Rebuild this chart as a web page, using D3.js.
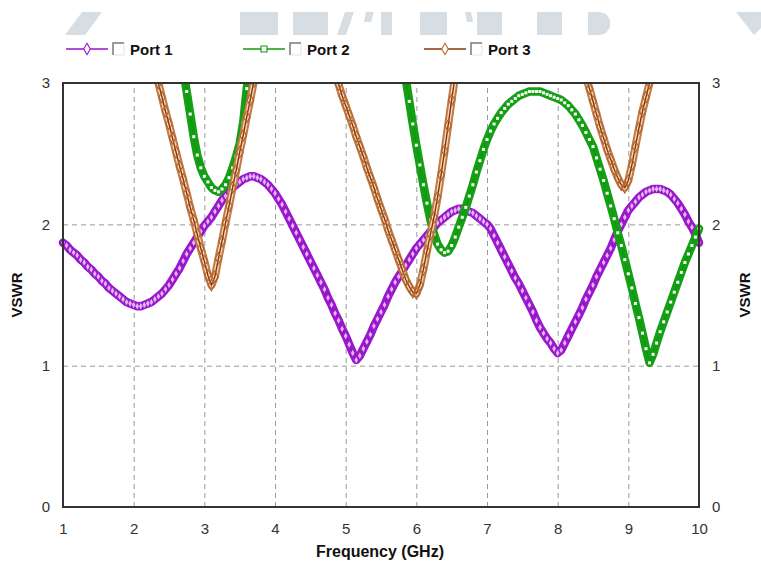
<!DOCTYPE html>
<html><head><meta charset="utf-8">
<script src="https://cdn.jsdelivr.net/npm/d3@7"></script>
<style>body{margin:0;background:#fff}svg{display:block}</style>
</head><body><svg id="c" width="761" height="563"></svg>
<script>
// ---------- DATA ----------
const freqStart = 1, freqStep = 0.05, freqCount = 181;
const xTicks = [1,2,3,4,5,6,7,8,9,10];
const yTicks = [0,1,2,3];
const seriesNames = ["Port 1","Port 2","Port 3"];
const n = null;
const port1 = [
1.87,1.85,1.82,1.80,1.78,1.75,1.73,1.70,1.68,1.65,1.63,1.60,1.58,1.55,1.53,1.51,1.49,1.47,1.45,1.44,
1.43,1.42,1.42,1.43,1.44,1.45,1.47,1.49,1.51,1.54,1.57,1.61,1.65,1.69,1.74,1.79,1.83,1.87,1.91,1.95,
1.99,2.02,2.05,2.09,2.13,2.17,2.20,2.23,2.26,2.28,2.30,2.32,2.33,2.34,2.34,2.33,2.32,2.30,2.28,2.25,
2.22,2.18,2.14,2.09,2.04,1.99,1.94,1.89,1.84,1.79,1.74,1.69,1.64,1.59,1.54,1.48,1.43,1.37,1.32,1.26,
1.21,1.15,1.09,1.04,1.07,1.12,1.17,1.22,1.28,1.33,1.38,1.43,1.49,1.54,1.59,1.63,1.67,1.71,1.75,1.79,
1.83,1.86,1.89,1.92,1.95,1.98,2.01,2.03,2.05,2.07,2.09,2.10,2.11,2.11,2.10,2.09,2.08,2.06,2.04,2.02,
2.00,1.97,1.92,1.87,1.82,1.77,1.72,1.67,1.62,1.58,1.53,1.48,1.43,1.38,1.32,1.27,1.23,1.19,1.16,1.12,
1.09,1.11,1.16,1.21,1.26,1.31,1.36,1.41,1.47,1.52,1.57,1.63,1.68,1.73,1.78,1.83,1.89,1.95,2.00,2.05,
2.10,2.13,2.16,2.19,2.21,2.23,2.24,2.25,2.25,2.25,2.24,2.23,2.21,2.18,2.15,2.11,2.07,2.02,1.98,1.93,
1.87];
const port2 = [
n,n,n,n,n,n,n,n,n,n,n,n,n,n,n,n,n,n,n,n,
n,n,n,n,n,n,n,n,n,n,n,n,n,n,3.10,2.94,2.78,2.62,2.49,2.40,
2.34,2.30,2.26,2.24,2.23,2.25,2.28,2.33,2.40,2.48,2.57,2.72,2.96,3.15,n,n,n,n,n,n,
n,n,n,n,n,n,n,n,n,n,n,n,n,n,n,n,n,n,n,n,
n,n,n,n,n,n,n,n,n,n,n,n,n,n,n,n,3.18,3.03,2.87,2.71,
2.56,2.42,2.28,2.15,2.03,1.93,1.86,1.82,1.80,1.81,1.85,1.91,1.98,2.05,2.12,2.20,2.28,2.37,2.45,2.53,
2.60,2.66,2.71,2.75,2.79,2.82,2.85,2.87,2.89,2.91,2.92,2.93,2.94,2.94,2.94,2.94,2.93,2.92,2.91,2.90,
2.89,2.88,2.86,2.84,2.81,2.78,2.74,2.70,2.65,2.60,2.55,2.47,2.39,2.31,2.22,2.13,2.04,1.94,1.85,1.75,
1.65,1.55,1.44,1.34,1.23,1.12,1.02,1.08,1.16,1.24,1.31,1.38,1.45,1.52,1.59,1.66,1.73,1.79,1.85,1.91,
1.97];
const port3 = [
n,n,n,n,n,n,n,n,n,n,n,n,n,n,n,n,n,n,n,n,
n,n,n,n,n,n,3.10,3.00,2.90,2.80,2.71,2.61,2.51,2.41,2.32,2.22,2.12,2.03,1.93,1.83,
1.74,1.64,1.57,1.63,1.76,1.88,2.01,2.13,2.26,2.38,2.51,2.63,2.76,2.88,3.01,3.13,n,n,n,n,
n,n,n,n,n,n,n,n,n,n,n,n,n,n,n,n,n,3.06,2.99,2.91,
2.84,2.77,2.70,2.62,2.55,2.48,2.40,2.33,2.26,2.18,2.11,2.04,1.96,1.89,1.82,1.75,1.68,1.61,1.56,1.52,
1.51,1.57,1.68,1.81,1.93,2.05,2.19,2.35,2.52,2.70,2.88,3.05,n,n,n,n,n,n,n,n,
n,n,n,n,n,n,n,n,n,n,n,n,n,n,n,n,n,n,n,n,
n,n,n,n,n,n,n,n,3.05,2.96,2.87,2.78,2.69,2.61,2.53,2.46,2.39,2.33,2.28,2.26,
2.31,2.42,2.55,2.68,2.80,2.90,3.00,3.10,n,n,n,n,n,n,n,n,n,n,n,n,
n];

// ---------- STYLE ----------
const freq = d3.range(freqCount).map(i => +(freqStart + i*freqStep).toFixed(2));
const styles = [
  {line:"#9a12cc", band:"#9a18cc", bandW:8.5, inner:null, mkFill:"#e2b8f4", mkStroke:"none", shape:"diamond", size:4.5, legStroke:"#9a12cc"},
  {line:"#0e9a0e", band:"#159f15", bandW:8.5, inner:null, mkFill:"#ffffff", mkStroke:"none", shape:"square", size:3, legStroke:"#0e9a0e"},
  {line:"#8a3408", band:"#c07a42", bandW:8, inner:"#f4dcc4", mkFill:"none", mkStroke:"#b0622a", shape:"diamond", size:8, legStroke:"#b86a2c"}
];
const allSeries = [port1, port2, port3];

const svg = d3.select("#c");
const W = 761, H = 563;
const m = {l:63, r:62, t:83, b:56};
const x = d3.scaleLinear().domain([1,10]).range([m.l, W - m.r]);
const y = d3.scaleLinear().domain([0,3]).range([H - m.b, m.t]);

// watermark bar at the top
const wm = "#d6dde3";
const wmShapes = [
  [[82,12],[102,12],[85,35],[65,35]],
  [[240,12],[278,12],[278,35],[240,35]],
  [[293,12],[328,12],[328,35],[293,35]],
  [[345,12],[354,12],[346,35],[337,35]],
  [[366,12],[374,12],[371,22],[364,22]],
  [[381,12],[392,12],[392,35],[381,35]],
  [[420,12],[447,12],[447,35],[420,35]],
  [[465,12],[471,12],[473,22],[467,22]],
  [[477,12],[502,12],[502,35],[477,35]],
  [[537,12],[562,12],[562,35],[537,35]],
  [[588,12],[600,12],[606,14],[610,20],[610,27],[606,33],[600,35],[588,35]],
  [[736,12],[761,12],[761,28],[754,35]]
];
svg.append("g").selectAll("path").data(wmShapes).join("path")
  .attr("d", d => "M" + d.join("L") + "Z").attr("fill", wm);

// grid
const grid = svg.append("g");
grid.append("g").attr("transform", `translate(0,${H - m.b})`)
  .call(d3.axisBottom(x).tickValues(xTicks.slice(1,-1)).tickSize(-(H - m.b - m.t)).tickFormat(""))
  .call(g => g.select(".domain").remove())
  .call(g => g.selectAll("line").attr("stroke","#9a9a9a").attr("stroke-dasharray","5,4"));
grid.append("g").attr("transform", `translate(${m.l},0)`)
  .call(d3.axisLeft(y).tickValues([1,2]).tickSize(-(W - m.l - m.r)).tickFormat(""))
  .call(g => g.select(".domain").remove())
  .call(g => g.selectAll("line").attr("stroke","#9a9a9a").attr("stroke-dasharray","5,4"));

// clip
svg.append("defs").append("clipPath").attr("id","clip")
  .append("rect").attr("x", m.l - 5).attr("y", m.t).attr("width", W - m.l - m.r + 10).attr("height", H - m.b - m.t);

const line = d3.line().defined(d => d[1] != null).x(d => x(d[0])).y(d => y(d[1]));
const sym = {diamond: d3.symbolDiamond, square: d3.symbolSquare};
function markerPath(shape, size){
  const s = shape === "diamond" ? size*size*0.58 : size*size;
  return d3.symbol().type(sym[shape]).size(s)();
}

// series
allSeries.forEach((vals, k) => {
  const st = styles[k];
  const pts = freq.map((f,i) => [f, vals[i]]);
  const g = svg.append("g").attr("clip-path","url(#clip)");
  g.append("path").datum(pts).attr("d", line).attr("fill","none")
    .attr("stroke", st.band).attr("stroke-width", st.bandW).attr("stroke-linejoin","round").attr("stroke-linecap","round");
  if (st.inner) g.append("path").datum(pts).attr("d", line).attr("fill","none")
    .attr("stroke", st.inner).attr("stroke-width", st.bandW - 4).attr("stroke-linejoin","round");
  g.append("path").datum(pts).attr("d", line).attr("fill","none")
    .attr("stroke", st.line).attr("stroke-width", 1.4);
  g.selectAll("path.mk").data(pts.filter(p => p[1] != null && p[1] <= 3.02)).join("path")
    .attr("class","mk")
    .attr("transform", p => `translate(${x(p[0])},${y(p[1])})`)
    .attr("d", markerPath(st.shape, st.size))
    .attr("fill", st.mkFill).attr("stroke", st.mkStroke).attr("stroke-width", 1.1);
});

// frame
svg.append("rect").attr("x", m.l).attr("y", m.t).attr("width", W - m.l - m.r).attr("height", H - m.b - m.t)
  .attr("fill","none").attr("stroke","#333").attr("stroke-width",2);

// axes labels
const font = "'Liberation Sans', Arial, sans-serif";
svg.append("g").attr("transform", `translate(0,${H - m.b})`)
  .call(d3.axisBottom(x).tickValues(xTicks).tickSize(0).tickPadding(16).tickFormat(d3.format("d")))
  .call(g => g.select(".domain").remove())
  .call(g => g.selectAll("text").attr("font-family", font).attr("font-size", 15).attr("fill","#333"));
svg.append("g").attr("transform", `translate(${m.l},0)`)
  .call(d3.axisLeft(y).tickValues(yTicks).tickSize(0).tickPadding(13).tickFormat(d3.format("d")))
  .call(g => g.select(".domain").remove())
  .call(g => g.selectAll("text").attr("font-family", font).attr("font-size", 15).attr("fill","#333"));
svg.append("g").attr("transform", `translate(${W - m.r},0)`)
  .call(d3.axisRight(y).tickValues(yTicks).tickSize(0).tickPadding(13).tickFormat(d3.format("d")))
  .call(g => g.select(".domain").remove())
  .call(g => g.selectAll("text").attr("font-family", font).attr("font-size", 15).attr("fill","#333"));

svg.append("text").attr("x", 380).attr("y", 557).attr("text-anchor","middle")
  .attr("font-family", font).attr("font-weight","bold").attr("font-size", 16).attr("fill","#111")
  .text("Frequency (GHz)");
svg.append("text").attr("transform","translate(22,295) rotate(-90)").attr("text-anchor","middle")
  .attr("font-family", font).attr("font-weight","bold").attr("font-size", 15).attr("fill","#111")
  .text("VSWR");
svg.append("text").attr("transform","translate(750,295) rotate(-90)").attr("text-anchor","middle")
  .attr("font-family", font).attr("font-weight","bold").attr("font-size", 15).attr("fill","#111")
  .text("VSWR");

// legend
const legX = [66, 243, 424];
const leg = svg.append("g");
seriesNames.forEach((name, k) => {
  const st = styles[k], lx = legX[k], ly = 49;
  const g = leg.append("g").attr("transform", `translate(${lx},${ly})`);
  g.append("line").attr("x1",0).attr("x2",42).attr("y1",0).attr("y2",0).attr("stroke", st.line).attr("stroke-width",1.3);
  g.append("path").attr("transform","translate(21,0)").attr("d", markerPath(st.shape, st.shape === "diamond" ? 8 : 6))
    .attr("fill","#fff").attr("stroke", st.legStroke).attr("stroke-width",1.1);
  g.append("path").attr("d","M47,6V-6H58").attr("fill","none").attr("stroke","#7a7a7a").attr("stroke-width",1.5);
  g.append("path").attr("d","M48,6H58V-5").attr("fill","none").attr("stroke","#e4e4e4").attr("stroke-width",1);
  g.append("text").attr("x",64).attr("y",5.5).attr("font-family",font).attr("font-weight","bold")
    .attr("font-size",15).attr("fill","#111").text(name);
});
</script>
</body></html>
